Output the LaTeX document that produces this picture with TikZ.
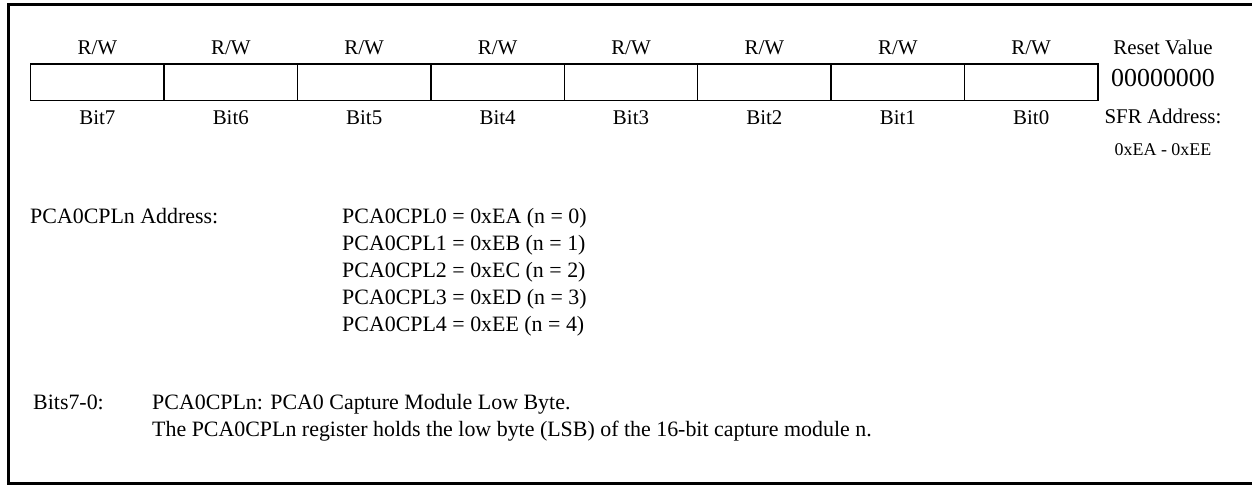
\documentclass[tikz,border=0pt]{standalone}
\usepackage{fontspec}
\setmainfont{Liberation Serif}
\usetikzlibrary{positioning}

\begin{document}
\begin{tikzpicture}[
  x=1bp, y=-1bp,
  cell/.style={draw, line width=1.3bp, minimum width=133.4bp, minimum height=36.6bp, inner sep=0pt, outer sep=0pt},
  every label/.style={font=\fontsize{21}{25}\selectfont, inner sep=0pt, text height=14.5bp, text depth=0pt},
  label distance=9bp,
  side/.style={font=\fontsize{21}{25}\selectfont, inner sep=0pt, anchor=base},
  txt/.style={font=\fontsize{22}{27}\selectfont, inner sep=0pt, anchor=base west}
]
  \useasboundingbox (0,0) rectangle (1252,485);
  % frame, open on the right
  \draw[line width=3bp] (1252,5) -- (8.5,5) -- (8.5,483.5) -- (1252,483.5);

  % register bits
  \node[cell, label=above:R/W, label=below:Bit7] (b7) at (97.4,82.3) {};
  \node[cell, right=0pt of b7, label=above:R/W, label=below:Bit6] (b6) {};
  \node[cell, right=0pt of b6, label=above:R/W, label=below:Bit5] (b5) {};
  \node[cell, right=0pt of b5, label=above:R/W, label=below:Bit4] (b4) {};
  \node[cell, right=0pt of b4, label=above:R/W, label=below:Bit3] (b3) {};
  \node[cell, right=0pt of b3, label=above:R/W, label=below:Bit2] (b2) {};
  \node[cell, right=0pt of b2, label=above:R/W, label=below:Bit1] (b1) {};
  \node[cell, right=0pt of b1, label=above:R/W, label=below:Bit0] (b0) {};

  % reset value and address
  \node[side] (rst) at (1163,55) {Reset Value};
  \node[side, font=\fontsize{26}{30}\selectfont] (rstval) at (1163,87) {00000000};
  \node[side] (sfr) at (1163,124) {SFR Address:};
  \node[side, font=\fontsize{18}{22}\selectfont] (sfrval) at (1163,156) {0xEA - 0xEE};

  % addresses
  \node[txt] (adr) at (30,224) {PCA0CPLn Address:};
  \foreach \n/\a in {0/EA,1/EB,2/EC,3/ED,4/EE}
    \node[txt] (adr\n) at (342,224+27*\n) {PCA0CPL\n{} = 0x\a{} (n = \n)};

  % bit description
  \node[txt] (bits) at (33,409) {Bits7-0:};
  \node[txt] (desc1) at (152,409) {PCA0CPLn: PCA0 Capture Module Low Byte.};
  \node[txt] (desc2) at (152,436) {The PCA0CPLn register holds the low byte (LSB) of the 16-bit capture module n.};
\end{tikzpicture}
\end{document}
